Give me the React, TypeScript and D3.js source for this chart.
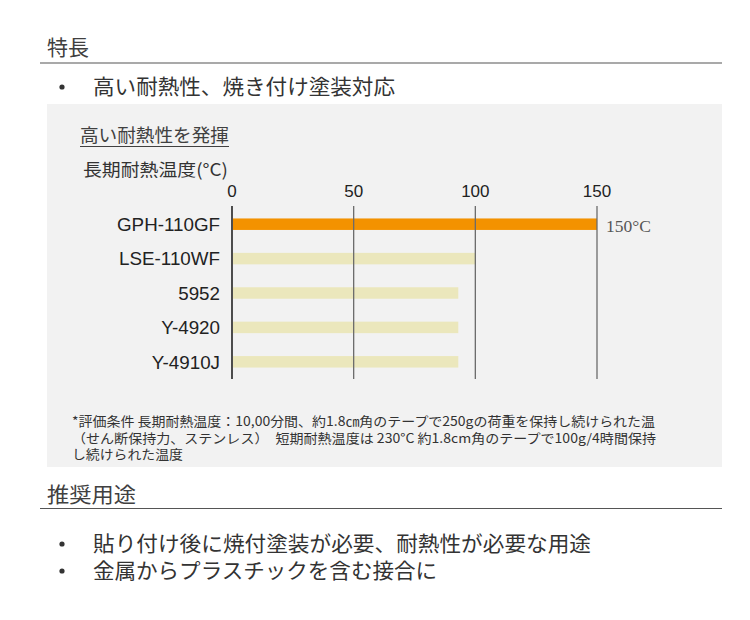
import React from 'react';
import * as d3 from 'd3';

const categories = ['GPH-110GF', 'LSE-110WF', '5952', 'Y-4920', 'Y-4910J'];
const values = [150, 100, 93, 93, 93];
const tickValues = [0, 50, 100, 150];
const highlightCategory = 'GPH-110GF';
const valueLabel = '150°C';
const sectionTitles = ['特長', '推奨用途'];
const featureBullets = ['高い耐熱性、焼き付け塗装対応'];
const useBullets = ['貼り付け後に焼付塗装が必要、耐熱性が必要な用途', '金属からプラスチックを含む接合に'];
const chartTitle = '高い耐熱性を発揮';
const axisTitle = '長期耐熱温度(°C)';
const footnotes = [
  '*評価条件 長期耐熱温度：10,00分間、約1.8㎝角のテープで250gの荷重を保持し続けられた温',
  '（せん断保持力、ステンレス）　短期耐熱温度は 230°C 約1.8cm角のテープで100g/4時間保持',
  'し続けられた温度',
];

const JP = '"Noto Sans CJK JP", "Noto Sans", sans-serif';
const LAT = '"Liberation Sans", Arial, sans-serif';

export default function App() {
  const x = d3.scaleLinear().domain([0, 150]).range([232, 597]);
  const y = d3.scaleBand<string>().domain(categories).range([207, 379]).paddingInner(0.666).paddingOuter(0.333);
  const bw = y.bandwidth();

  return (
    <svg width={750} height={620} style={{ position: 'absolute', left: 0, top: 0, background: '#fff' }}>
      {/* Section 1 */}
      <text x={47} y={55} fontFamily={JP} fontSize={21} fill="#404040">{sectionTitles[0]}</text>
      <line x1={40} x2={722} y1={63} y2={63} stroke="#555" strokeWidth={1.2} />
      {featureBullets.map((t, i) => (
        <g key={t}>
          <circle cx={62} cy={87 + i * 27} r={2.6} fill="#333" />
          <text x={93} y={94 + i * 27} fontFamily={JP} fontSize={21} fill="#333" textLength={302} lengthAdjust="spacingAndGlyphs">{t}</text>
        </g>
      ))}

      {/* Gray panel */}
      <rect x={47} y={104} width={675} height={363} fill="#f2f2f2" />
      <text x={80} y={142} fontFamily={JP} fontSize={18} fill="#404040" textLength={149} lengthAdjust="spacingAndGlyphs">{chartTitle}</text>
      <line x1={80} x2={229} y1={146.5} y2={146.5} stroke="#404040" strokeWidth={1} />
      <text x={83} y={176} fontFamily={JP} fontSize={17.5} fill="#333" textLength={145} lengthAdjust="spacingAndGlyphs">{axisTitle}</text>

      {tickValues.map((t) => (
        <text key={'t' + t} x={x(t)} y={197} textAnchor="middle" fontFamily={LAT} fontSize={17} fill="#222">{t}</text>
      ))}

      {categories.map((c, i) => (
        <g key={c}>
          <rect
            x={x(0) + 1}
            y={y(c)!}
            width={x(values[i]) - x(0) - 1}
            height={bw}
            fill={c === highlightCategory ? '#f39200' : '#ebe7bc'}
          />
          <text x={220} y={y(c)! + bw / 2} dy="0.36em" textAnchor="end" fontFamily={LAT} fontSize={18.8} fill="#222">{c}</text>
          {c === highlightCategory && (
            <text x={606} y={y(c)! + bw / 2 + 8} fontFamily='"Liberation Serif", serif' fontSize={17.5} fill="#555">{valueLabel}</text>
          )}
        </g>
      ))}

      {tickValues.map((t) => (
        <line
          key={'g' + t}
          x1={x(t)}
          x2={x(t)}
          y1={206}
          y2={379}
          stroke={t === 0 ? '#222' : '#6b6b6b'}
          strokeWidth={t === 0 ? 1.6 : 1.3}
        />
      ))}

      {footnotes.map((f, i) => (
        <text
          key={i}
          x={72}
          y={426 + i * 16.5}
          fontFamily={JP}
          fontSize={13}
          fill="#333"
          textLength={i === 0 ? 583 : i === 1 ? 584 : 111}
          lengthAdjust="spacingAndGlyphs"
        >{f}</text>
      ))}

      {/* Section 2 */}
      <text x={47} y={502} fontFamily={JP} fontSize={21} fill="#404040" textLength={89} lengthAdjust="spacingAndGlyphs">{sectionTitles[1]}</text>
      <line x1={40} x2={722} y1={508.5} y2={508.5} stroke="#555" strokeWidth={1.2} />
      {useBullets.map((t, i) => (
        <g key={t}>
          <circle cx={62} cy={544 + i * 27} r={2.6} fill="#333" />
          <text x={93} y={551 + i * 27} fontFamily={JP} fontSize={21} fill="#333" textLength={i === 0 ? 498 : 344} lengthAdjust="spacingAndGlyphs">{t}</text>
        </g>
      ))}
    </svg>
  );
}
